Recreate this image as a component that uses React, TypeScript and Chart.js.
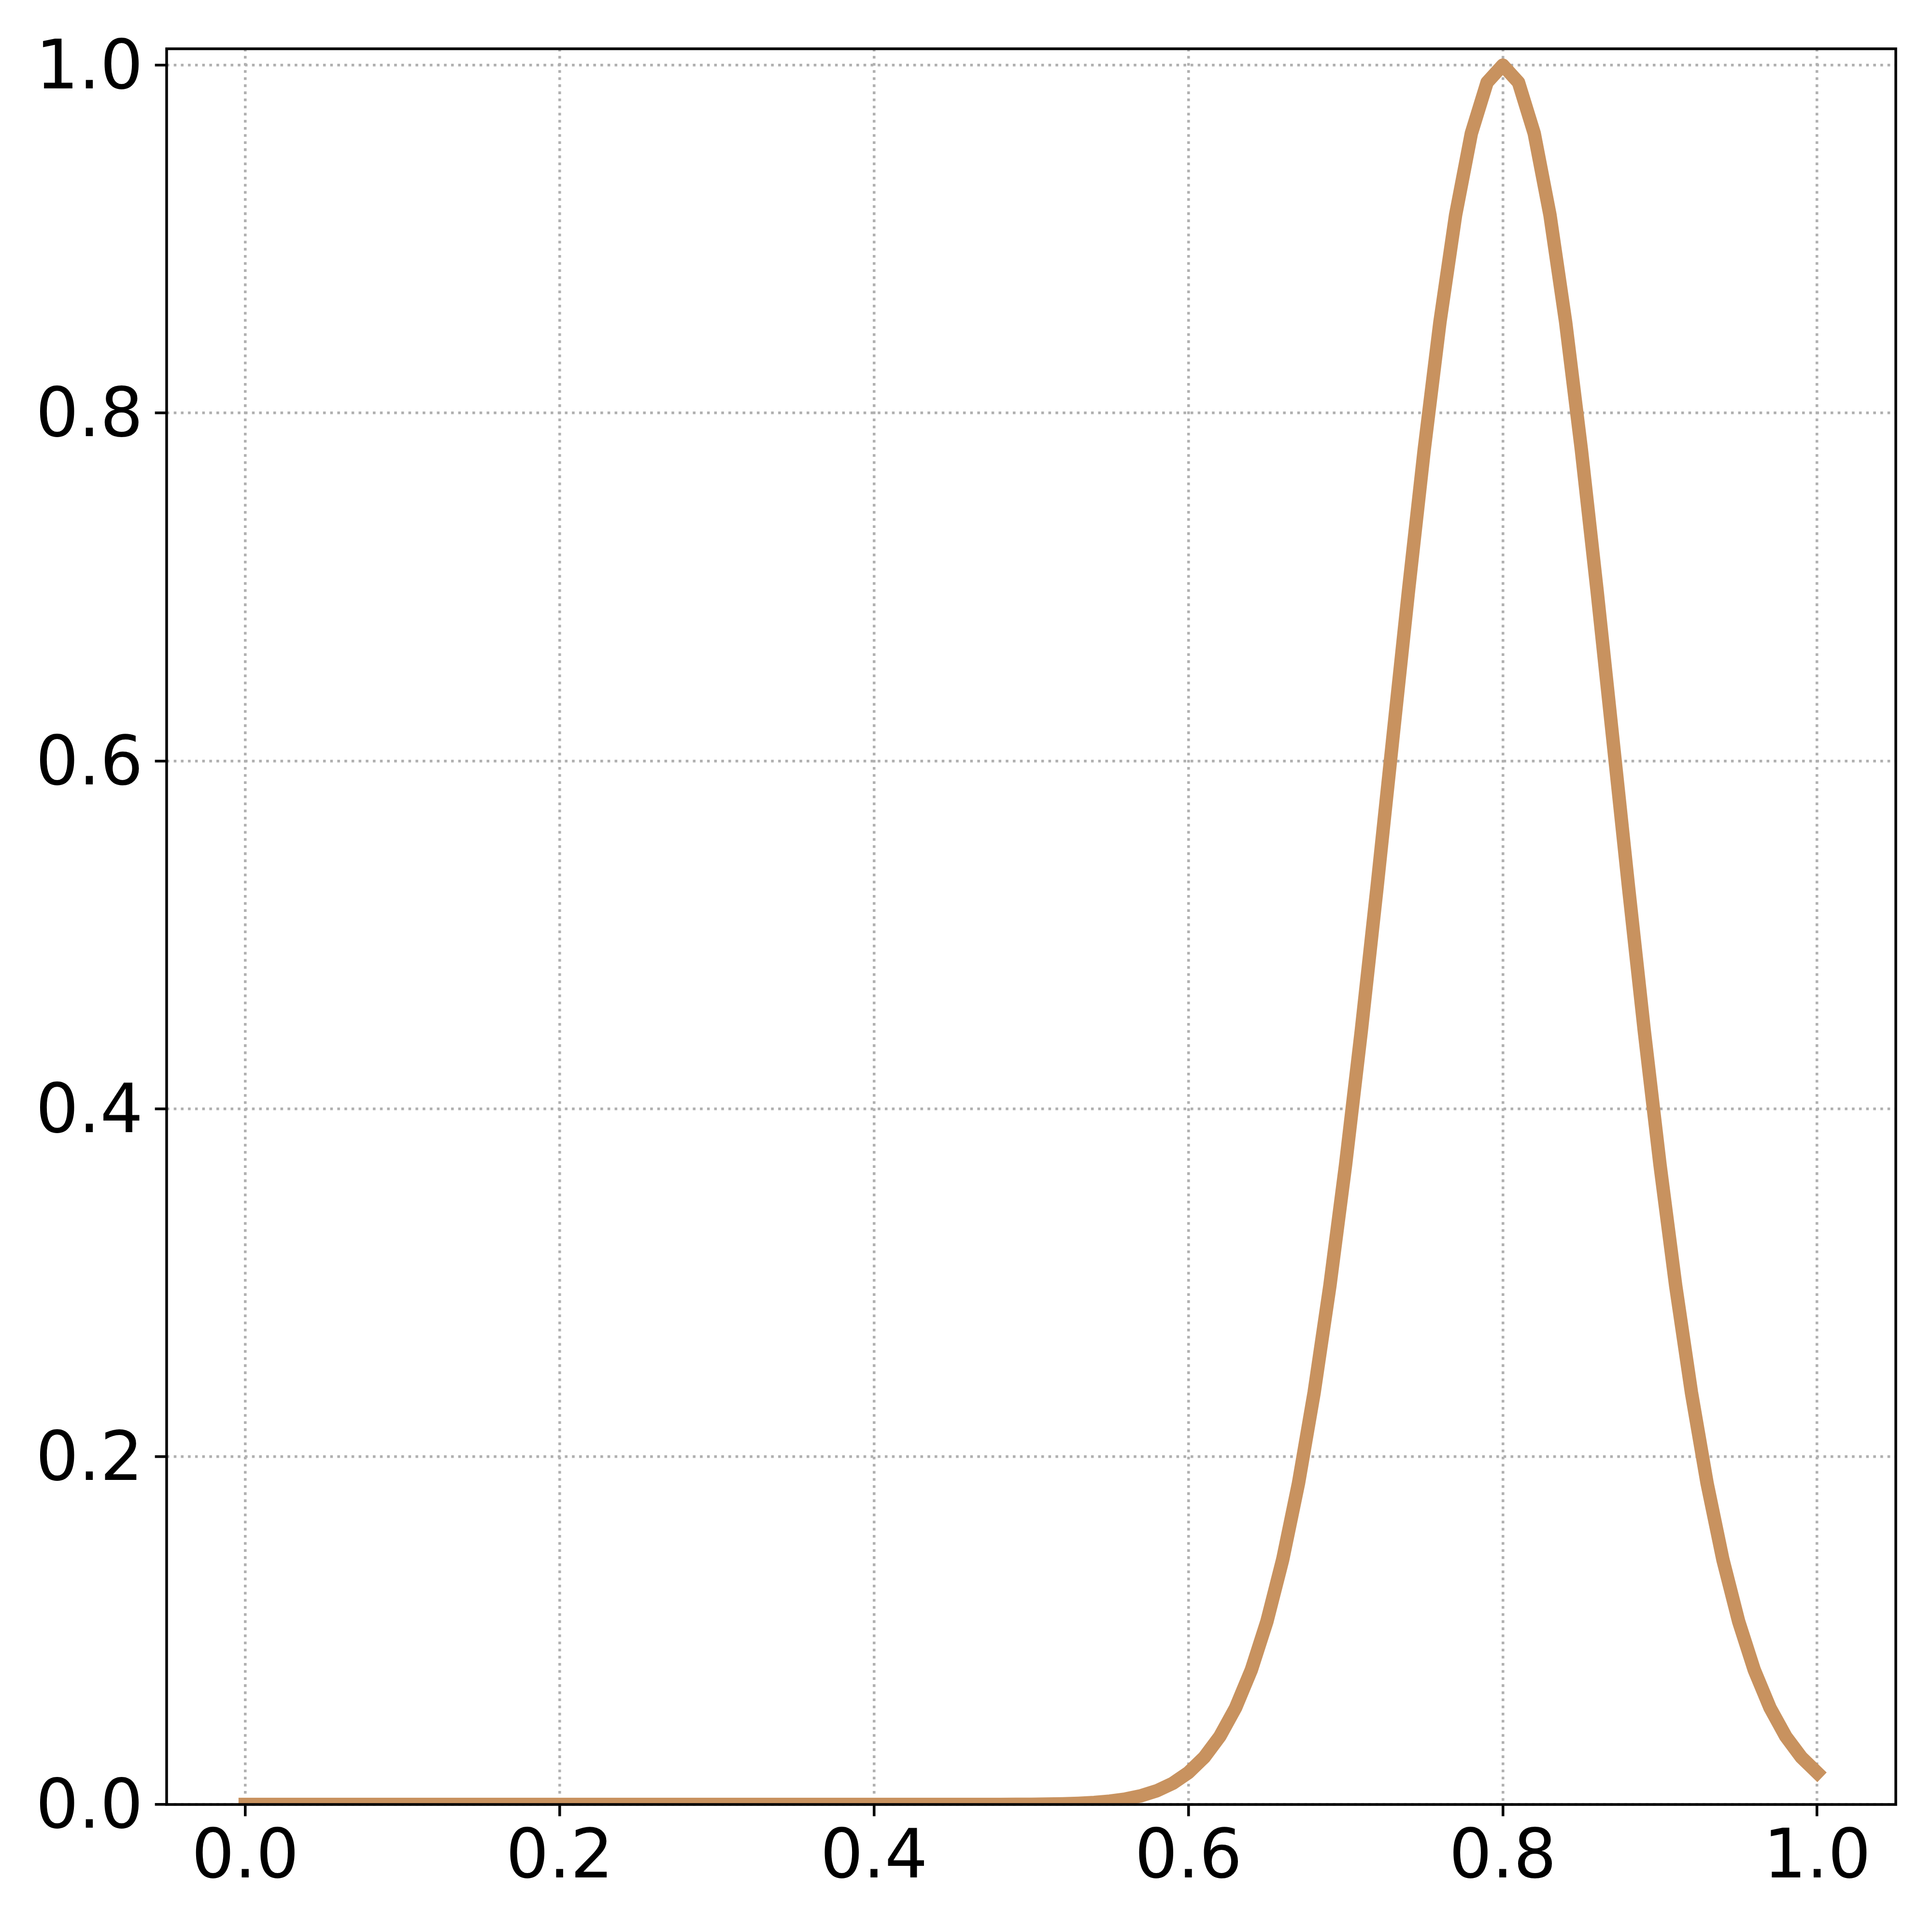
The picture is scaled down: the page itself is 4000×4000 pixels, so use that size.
import React, { useEffect, useRef } from 'react';
import { Chart, registerables } from 'chart.js';

Chart.register(...registerables);

// ---- data ----
const xValues = [
  0.0, 0.01, 0.02, 0.03, 0.04, 0.05, 0.06, 0.07, 0.08, 0.09,
  0.1, 0.11, 0.12, 0.13, 0.14, 0.15, 0.16, 0.17, 0.18, 0.19,
  0.2, 0.21, 0.22, 0.23, 0.24, 0.25, 0.26, 0.27, 0.28, 0.29,
  0.3, 0.31, 0.32, 0.33, 0.34, 0.35, 0.36, 0.37, 0.38, 0.39,
  0.4, 0.41, 0.42, 0.43, 0.44, 0.45, 0.46, 0.47, 0.48, 0.49,
  0.5, 0.51, 0.52, 0.53, 0.54, 0.55, 0.56, 0.57, 0.58, 0.59,
  0.6, 0.61, 0.62, 0.63, 0.64, 0.65, 0.66, 0.67, 0.68, 0.69,
  0.7, 0.71, 0.72, 0.73, 0.74, 0.75, 0.76, 0.77, 0.78, 0.79,
  0.8, 0.81, 0.82, 0.83, 0.84, 0.85, 0.86, 0.87, 0.88, 0.89,
  0.9, 0.91, 0.92, 0.93, 0.94, 0.95, 0.96, 0.97, 0.98, 0.99,
  1.0,
];

const yValues = [
  0, 0, 0, 0, 0, 0, 0, 0, 0, 0,
  0, 0, 0, 0, 0, 0, 0, 0, 0, 0,
  0, 0, 0, 0, 0, 0, 0, 0, 0, 0,
  0, 0, 0, 0, 0, 0, 0, 0, 0, 0,
  0, 0, 0, 0, 0, 0, 0, 0.00002, 0.00004, 0.00007,
  0.00012, 0.00022, 0.00039, 0.00068, 0.00116, 0.00193, 0.00315, 0.00504, 0.00791, 0.01215,
  0.01832, 0.02705, 0.03916, 0.05558, 0.0773, 0.1054, 0.14086, 0.18452, 0.23693, 0.2982,
  0.36788, 0.44486, 0.52729, 0.61263, 0.69768, 0.7788, 0.85214, 0.91393, 0.96079, 0.99005,
  1.0, 0.99005, 0.96079, 0.91393, 0.85214, 0.7788, 0.69768, 0.61263, 0.52729, 0.44486,
  0.36788, 0.2982, 0.23693, 0.18452, 0.14086, 0.1054, 0.0773, 0.05558, 0.03916, 0.02705,
  0.01832,
];

const xTickValues = [0.0, 0.2, 0.4, 0.6, 0.8, 1.0];
const yTickValues = [0.0, 0.2, 0.4, 0.6, 0.8, 1.0];
const xLimits = [-0.05, 1.05];
const yLimits = [0, 1.0094];

// ---- styling ----
const W = 4000;
const H = 4000;
const PT = 500 / 72; // pixels per point
const LINE_COLOR = '#c8925f';
const GRID_COLOR = '#b0b0b0';
const FONT = { family: 'DejaVu Sans', size: 140 };
const GRID_LW = 0.8 * PT;

export default function App() {
  const ref = useRef<HTMLCanvasElement | null>(null);

  useEffect(() => {
    if (!ref.current) return;

    const frame = {
      id: 'frame',
      afterDraw(chart: any) {
        const { ctx, chartArea: a } = chart;
        ctx.save();
        ctx.strokeStyle = '#000000';
        ctx.lineWidth = 0.8 * PT;
        ctx.lineJoin = 'miter';
        ctx.setLineDash([]);
        ctx.strokeRect(a.left, a.top, a.right - a.left, a.bottom - a.top);
        ctx.restore();
      },
    };

    const gridOpts = {
      display: true,
      color: GRID_COLOR,
      lineWidth: GRID_LW,
      drawTicks: true,
      tickLength: 3.5 * PT,
      tickColor: '#000000',
      tickWidth: 0.8 * PT,
      tickBorderDash: [],
    };

    const borderOpts = {
      display: false,
      dash: [1 * GRID_LW, 1.65 * GRID_LW],
      dashOffset: 0,
    };

    const chart = new Chart(ref.current, {
      type: 'line',
      data: {
        datasets: [
          {
            data: xValues.map((x, i) => ({ x, y: yValues[i] })),
            borderColor: LINE_COLOR,
            backgroundColor: LINE_COLOR,
            borderWidth: 4 * PT,
            pointRadius: 0,
            tension: 0,
            fill: false,
            borderCapStyle: 'square',
            borderJoinStyle: 'round',
            clip: 0,
          },
        ],
      },
      options: {
        responsive: false,
        animation: false,
        devicePixelRatio: 1,
        layout: { padding: { left: 0, top: 101, right: 75, bottom: 0 } },
        plugins: {
          legend: { display: false },
          tooltip: { enabled: false },
          title: { display: false },
        },
        scales: {
          x: {
            type: 'linear',
            min: xLimits[0],
            max: xLimits[1],
            afterBuildTicks: (s: any) => {
              s.ticks = xTickValues.map((v) => ({ value: v }));
            },
            afterFit: (s: any) => {
              s.height = 264;
            },
            grid: gridOpts,
            border: borderOpts,
            ticks: {
              font: FONT,
              color: '#000000',
              padding: 6,
              maxRotation: 0,
              minRotation: 0,
              autoSkip: false,
              callback: (v: any) => Number(v).toFixed(1),
            },
          },
          y: {
            type: 'linear',
            min: yLimits[0],
            max: yLimits[1],
            afterBuildTicks: (s: any) => {
              s.ticks = yTickValues.map((v) => ({ value: v }));
            },
            afterFit: (s: any) => {
              s.width = 345;
            },
            grid: gridOpts,
            border: borderOpts,
            ticks: {
              font: { ...FONT, lineHeight: '24px' },
              color: '#000000',
              padding: 3.5 * PT,
              autoSkip: false,
              callback: (v: any) => ['', Number(v).toFixed(1)],
            },
          },
        },
      },
      plugins: [frame],
    } as any);

    return () => chart.destroy();
  }, []);

  return (
    <div style={{ position: 'absolute', left: 0, top: 0, width: W, height: H, background: '#ffffff' }}>
      <canvas ref={ref} width={W} height={H} style={{ display: 'block', width: W, height: H }} />
    </div>
  );
}
